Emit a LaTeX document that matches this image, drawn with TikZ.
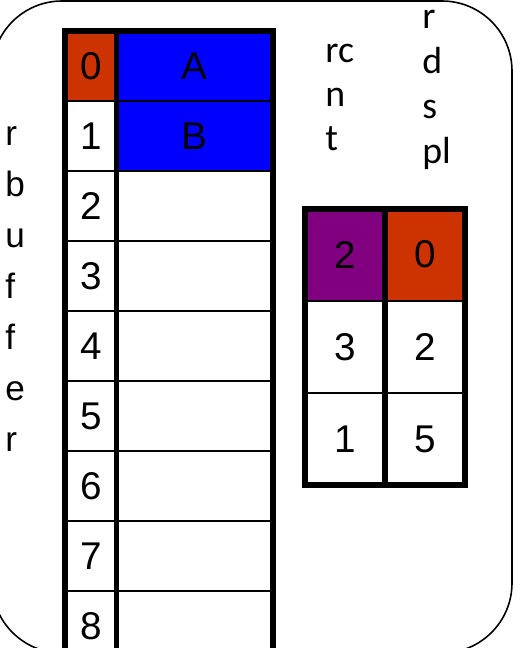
\documentclass[tikz,border=0pt]{standalone}
\usepackage{fontspec}
\setmainfont{Liberation Sans}
\newfontfamily\calfont{Carlito}
\usetikzlibrary{positioning}

\definecolor{rust}{RGB}{204,51,0}
\definecolor{plum}{RGB}{128,0,128}

\tikzset{
  cell/.style={draw, rectangle, inner sep=0pt, outer sep=0pt, line width=0.85pt,
               font=\fontsize{22pt}{26pt}\selectfont},
  idx/.style={cell, minimum width=1.03cm, minimum height=1.4cm},
  dat/.style={cell, minimum width=3.13cm, minimum height=1.4cm},
  slot/.style={cell, minimum width=1.6cm, minimum height=1.845cm},
  thick rule/.style={line width=3.4pt},
  vlabel/.style={align=left, inner sep=0pt, anchor=base west}
}

\begin{document}
\begin{tikzpicture}
  \useasboundingbox (0,0) rectangle (10.38,-12.96);
  \clip (0,0) rectangle (10.38,-12.96);

  % rounded frame
  \draw[line width=0.9pt, rounded corners=1.4cm] (-0.16,-0.02) rectangle (10.24,-13.06);

  % buffer
  \node (i0) [idx, fill=rust] at (1.815,-1.32) {0};
  \node (d0) [dat, fill=blue, right=0pt of i0] {A};
  \node (i1) [idx, below=0pt of i0] {1};
  \node (d1) [dat, fill=blue, below=0pt of d0] {B};
  \foreach \n [count=\m from 1] in {2,...,8} {
    \node (i\n) [idx, below=0pt of i\m] {\n};
    \node (d\n) [dat, below=0pt of d\m] {};
  }
  \draw[thick rule] (i0.north west) rectangle (d8.south east);
  \draw[thick rule] (i0.north east) -- (i8.south east);

  % rcnt / rdspl table
  \node (c00) [slot, fill=plum] at (6.90,-5.093) {2};
  \node (c01) [slot, fill=rust, right=0pt of c00] {0};
  \node (c10) [slot, below=0pt of c00] {3};
  \node (c11) [slot, below=0pt of c01] {2};
  \node (c20) [slot, below=0pt of c10] {1};
  \node (c21) [slot, below=0pt of c11] {5};
  \draw[thick rule] (c00.north west) rectangle (c21.south east);
  \draw[thick rule] (c00.north east) -- (c20.south east);

  % vertical labels (anchored at the last line)
  \node (rbuf) [vlabel, font=\fontsize{20pt}{29pt}\selectfont] at (0.10,-9.02)
              {r\\b\\u\\f\\f\\e\\r};
  \node (rcnt) [vlabel, font=\calfont\fontsize{21.5pt}{25pt}\selectfont] at (6.50,-3.00)
              {rc\\n\\t};
  \node (rdspl) [vlabel, font=\calfont\fontsize{21.5pt}{25.5pt}\selectfont] at (8.44,-3.26)
              {r\\d\\s\\pl};
\end{tikzpicture}
\end{document}
